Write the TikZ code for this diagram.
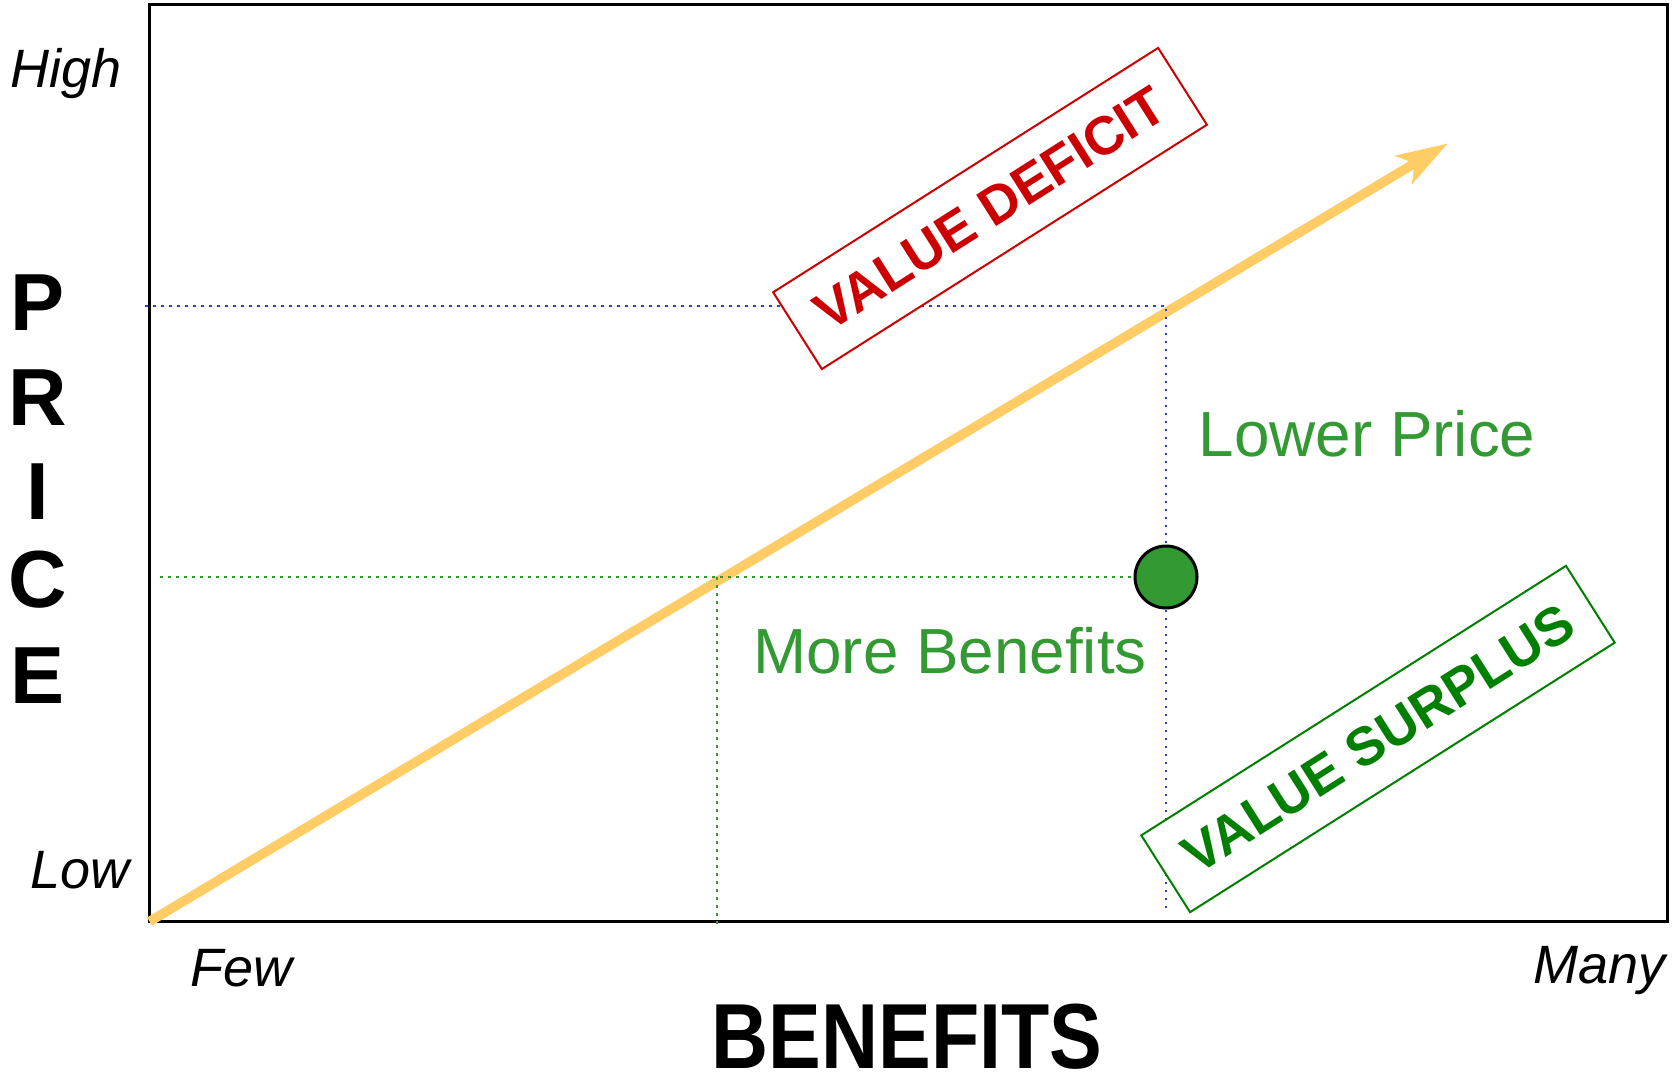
\documentclass[tikz,border=0pt]{standalone}
\usepackage{fontspec}
\setmainfont{Liberation Sans}
\usetikzlibrary{arrows.meta}
\definecolor{gtext}{HTML}{339933}
\definecolor{dgreen}{HTML}{007F00}
\definecolor{dred}{HTML}{CC0000}
\definecolor{bdot}{HTML}{1F3FD9}
\definecolor{yarrow}{HTML}{FFCC66}
\begin{document}
\begin{tikzpicture}[x=1pt,y=-1pt,
  axlbl/.style={inner sep=0pt, font=\itshape\fontsize{54}{64}\selectfont},
  bigl/.style={inner sep=0pt, font=\bfseries\fontsize{81}{97}\selectfont, anchor=base},
  grlbl/.style={inner sep=0pt, text=gtext, font=\fontsize{63.8}{76}\selectfont, anchor=base west},
  valbox/.style={draw, fill=white, line width=2pt, rotate=32.4, minimum width=456pt, minimum height=91pt, inner sep=0pt, font=\bfseries\fontsize{54}{64}\selectfont},
  bluedot/.style={bdot, line width=2pt, dash pattern=on 2.5pt off 5.5pt},
  greendot/.style={gtext, line width=2pt, dash pattern=on 2.5pt off 5.5pt},
  frame/.style={draw=black, line width=3pt}
]
\useasboundingbox (0,0) rectangle (1676,1073);
% frame
\coordinate (fTL) at (149.6,4.3);
\coordinate (fBR) at (1667,921.5);
\draw[frame] (fTL) rectangle (fBR);
% main arrow
\coordinate (aStart) at (149.6,921.5);
\coordinate (aTip) at (1448,143.3);
\draw[yarrow, line width=9.5pt, -{Stealth[length=51pt,width=32pt,inset=12pt]}] (aStart) -- (aTip);
% circle point
\node[circle, draw=black, line width=3pt, fill=gtext, minimum size=62pt, inner sep=0pt] (dot) at (1166,577) {};
% blue dotted guide
\coordinate (bL) at (145,305.5);
\coordinate (bC) at (1166,305.5);
\coordinate (bB) at (1166,913);
\draw[bluedot] (bL) -- (bC) -- (dot.north);
\draw[bluedot] (dot.south) -- (bB);
% green dotted guide
\coordinate (gL) at (160,577);
\coordinate (gT) at (717,577);
\coordinate (gB) at (717,926);
\draw[greendot] (gL) -- (dot.west);
\draw[greendot] (gT) -- (gB);
% value boxes
\node[valbox, draw=dred, text=dred] (deficit) at (990,208.5) {VALUE DEFICIT};
\node[valbox, draw=dgreen, text=dgreen, minimum width=503pt] (surplus) at (1378,739) {VALUE SURPLUS};
% green labels
\node[grlbl] (lower) at (1198.5,456.7) {Lower Price};
\node[grlbl] (more) at (753,673.3) {More Benefits};
% axis labels
\node[axlbl, anchor=base west] (high) at (10,88) {High};
\node[axlbl, anchor=base west] (low) at (30,888) {Low};
\node[axlbl, anchor=base west] (few) at (190,986) {Few};
\node[axlbl, anchor=base east] (many) at (1666,983) {Many};
% big titles
\node[inner sep=0pt, anchor=base, font=\bfseries\fontsize{79}{95}\selectfont] (benefits) at (907,1068) {\scalebox{1}[1.17]{BENEFITS}};
\node[bigl] (p1) at (38,330) {P};
\node[bigl] (p2) at (38,425) {R};
\node[bigl] (p3) at (38,519) {I};
\node[bigl] (p4) at (38,607) {C};
\node[bigl] (p5) at (38,703) {E};
\end{tikzpicture}
\end{document}
